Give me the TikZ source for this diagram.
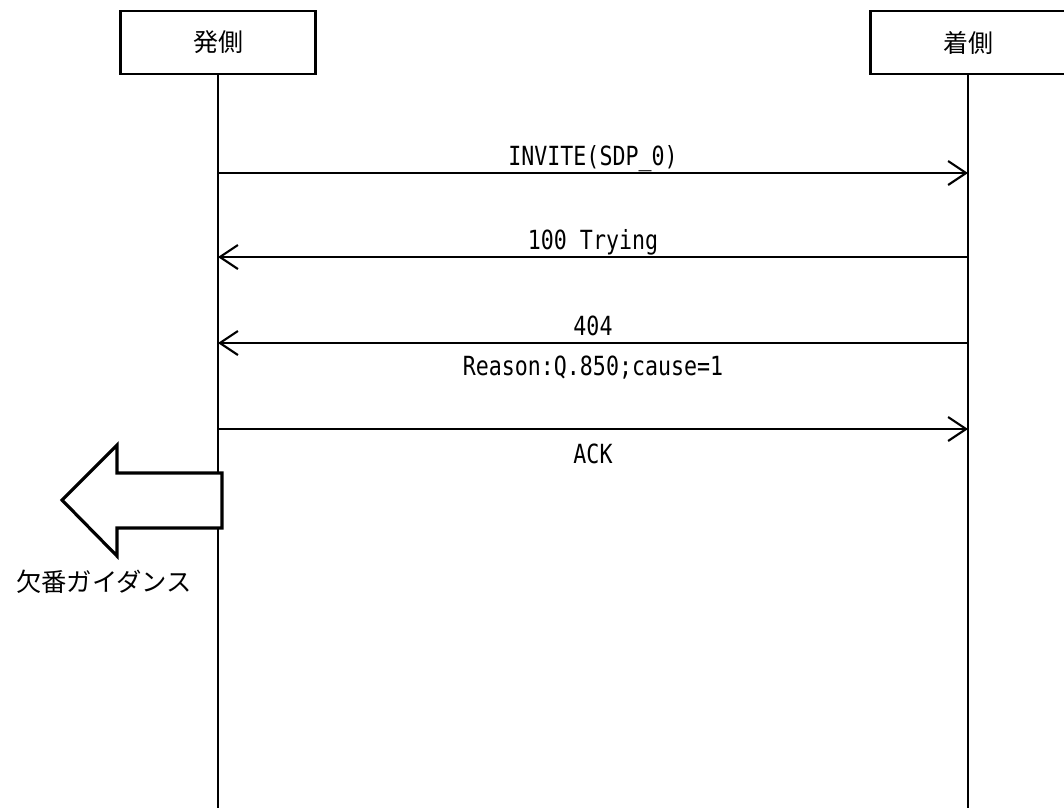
\documentclass[tikz,border=0pt]{standalone}
\usepackage{fontspec}
\setmainfont{Noto Sans CJK JP}
\newfontfamily\msgfont[FakeStretch=0.82]{DejaVu Sans Mono}
\usetikzlibrary{arrows.meta, positioning}
\tikzstyle{party} = [rectangle, minimum width=1.95cm, minimum height=0.63cm, text centered, draw=black, line width=0.8pt, font=\fontsize{7.1}{8}\selectfont]
\tikzstyle{lifeline} = [line width=0.5pt]
\tikzstyle{msg} = [line width=0.6pt, -{Straight Barb[length=0.18cm, width=0.24cm, line width=0.6pt]}]
\tikzstyle{msgtext} = [font=\msgfont\fontsize{7.5}{8.5}\selectfont, inner sep=0pt, anchor=base]
\tikzstyle{guidance} = [line width=0.9pt, fill=white, line join=miter]

\begin{document}
\begin{tikzpicture}[x=0.01cm, y=-0.01cm]
\useasboundingbox (0,0) rectangle (1064,808);
\clip (0,0) rectangle (1064,808);

\node (caller) [party] at (218,42.5) {発側};
\node (callee) [party] at (968,42.5) {着側};
\coordinate (callerEnd) at (218,808);
\coordinate (calleeEnd) at (968,808);

\draw [lifeline] (caller) -- (callerEnd);
\draw [lifeline] (callee) -- (calleeEnd);

% message points on the lifelines
\coordinate (inviteA) at (218,173);
\coordinate (inviteB) at (968,173);
\coordinate (tryingA) at (218,257);
\coordinate (tryingB) at (968,257);
\coordinate (rejectA) at (218,343);
\coordinate (rejectB) at (968,343);
\coordinate (ackA) at (218,429);
\coordinate (ackB) at (968,429);

\draw [msg] (inviteA) -- node[msgtext, yshift=0.08cm] {INVITE(SDP\_0)} (inviteB);
\draw [msg] (tryingB) -- node[msgtext, yshift=0.075cm] {100 Trying} (tryingA);
\draw [msg] (rejectB) -- node[msgtext, yshift=0.08cm] (code) {404} (rejectA);
\node (reason) [msgtext, below=0.4cm of code.base, anchor=base] {Reason:Q.850;cause=1};
\draw [msg] (ackA) -- node[msgtext, yshift=-0.34cm] {ACK} (ackB);

% guidance arrow
\draw [guidance] (222,473) -- (117,473) -- (117,445) -- (62,500) -- (117,556) -- (117,528) -- (222,528) -- cycle;
\node (guide) [font=\fontsize{7.2}{8}\selectfont] at (104,582) {欠番ガイダンス};

\end{tikzpicture}
\end{document}
